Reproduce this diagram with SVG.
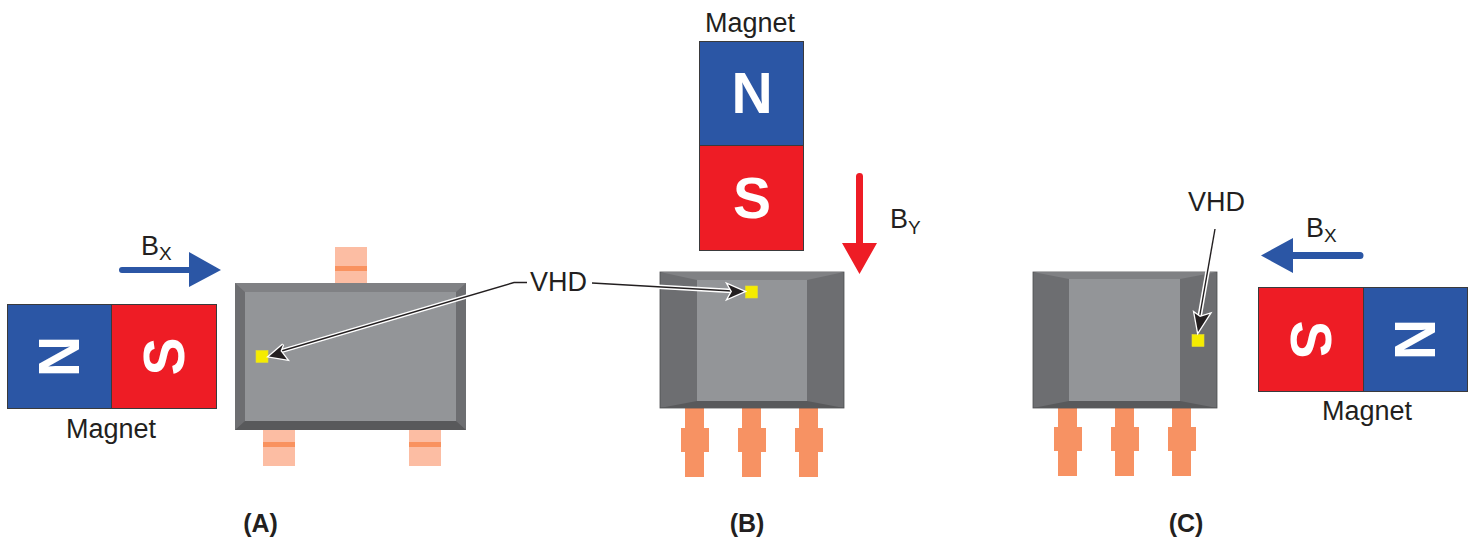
<svg xmlns="http://www.w3.org/2000/svg" width="1473" height="538" viewBox="0 0 1473 538">
<style>
text{font-family:"Liberation Sans",Arial,sans-serif;fill:#231f20}
.l{font-size:27px}
.sub{font-size:19px}
.cap{font-size:25px;font-weight:bold;text-anchor:middle}
.pole{font-weight:bold;font-size:57px;fill:#fff;text-anchor:middle}
.n{fill:#2b56a5;stroke:#3a3a3c;stroke-width:1}
.s{fill:#ee1c25;stroke:#3a3a3c;stroke-width:1}
.lead{fill:#fcbda3}
.band{fill:#f9925f}
.pin{fill:#f79263}
.vhd{fill:#f5ec00;stroke:#e3dc30;stroke-width:.6}
.halo{fill:none;stroke:#fff;stroke-width:4.4}
.wire{fill:none;stroke:#231f20;stroke-width:1.4}
.head{fill:#231f20;stroke:#fff;stroke-width:2.6;stroke-linejoin:miter;paint-order:stroke}
</style>
<defs>
<g id="pins">
<path class="pin" d="M14 0H33V20H38V44H33V69H14V44H10V20H14Z"/>
</g>
</defs>
<g id="magnet-a">
<rect class="n" x="7.500" y="304.500" width="104" height="104"/>
<rect class="s" x="111.500" y="304.500" width="105" height="104"/>
<text class="pole" transform="translate(79,356.500) rotate(-90)">N</text>
<text class="pole" transform="translate(184,356.500) rotate(-90)">S</text>
<text class="l" x="66" y="438">Magnet</text>
</g>
<g id="field-a">
<path fill="#2b56a5" d="M122 267H189V252L221 270L189 287V273H122A3 3 0 0 1 122 267Z"/>
<text class="l" x="141" y="255">B<tspan class="sub" dy="5">X</tspan></text>
</g>
<g id="package-a">
<rect class="lead" x="335" y="247" width="32" height="36"/>
<rect class="band" x="335" y="266" width="32" height="5"/>
<rect class="lead" x="263" y="430" width="32" height="36"/>
<rect class="band" x="263" y="442" width="32" height="5"/>
<rect class="lead" x="409" y="430" width="32" height="36"/>
<rect class="band" x="409" y="442" width="32" height="5"/>
<rect x="235" y="283" width="231" height="147" fill="#6d6e71"/>
<path fill="#808184" d="M235 283H466L456 292H245Z"/>
<path fill="#58595b" d="M235 430H466L456 421H245Z"/>
<rect x="245" y="292" width="211" height="129" fill="#939598"/>
<rect class="vhd" x="256" y="350.500" width="12" height="12"/>
</g>
<g id="magnet-b">
<text class="l" x="705" y="32">Magnet</text>
<rect class="n" x="699.500" y="41.500" width="104" height="104"/>
<rect class="s" x="699.500" y="145.500" width="104" height="105"/>
<text class="pole" x="752" y="113">N</text>
<text class="pole" x="752" y="217.500">S</text>
</g>
<g id="field-b">
<path fill="#ee1c25" d="M856 176.500A3.500 3.500 0 0 1 863 176.500V243H877L859.500 274L842 243H856Z"/>
<text class="l" x="890" y="228">B<tspan class="sub" dy="6">Y</tspan></text>
</g>
<g id="package-b">
<use href="#pins" x="671" y="408"/>
<use href="#pins" x="728" y="408"/>
<use href="#pins" x="785" y="408"/>
<rect x="660" y="272" width="184" height="136" fill="#6d6e71" stroke="#4d4e50" stroke-width=".8"/>
<path fill="#808184" d="M660 272H844L807 280H697Z"/>
<path fill="#58595b" d="M660 408H844L807 401H697Z"/>
<rect x="697" y="280" width="110" height="121" fill="#939598"/>
<rect class="vhd" x="745.500" y="286" width="12" height="12"/>
</g>
<g id="package-c">
<use href="#pins" x="1044" y="407"/>
<use href="#pins" x="1101" y="407"/>
<use href="#pins" x="1158" y="407"/>
<rect x="1033" y="272" width="184" height="136" fill="#6d6e71" stroke="#4d4e50" stroke-width=".8"/>
<path fill="#808184" d="M1033 272H1217L1180 279H1069Z"/>
<path fill="#58595b" d="M1033 408H1217L1180 401H1069Z"/>
<rect x="1069" y="279" width="111" height="122" fill="#939598"/>
<rect class="vhd" x="1192" y="334.500" width="12" height="12"/>
</g>
<g id="magnet-c">
<rect class="s" x="1258.500" y="287.500" width="105" height="104"/>
<rect class="n" x="1363.500" y="287.500" width="104" height="104"/>
<text class="pole" transform="translate(1291,339.500) rotate(90)">S</text>
<text class="pole" transform="translate(1395,339.500) rotate(90)">N</text>
<text class="l" x="1322" y="420">Magnet</text>
</g>
<g id="field-c">
<path fill="#2b56a5" d="M1360 252H1293V238L1261 255.500L1293 273V259H1360A3.500 3.500 0 0 0 1360 252Z"/>
<text class="l" x="1306" y="237">B<tspan class="sub" dy="5">X</tspan></text>
</g>
<g id="connectors">
<path class="halo" d="M514 282.500L278 352"/>
<path class="wire" d="M527 282.500H514L278 352"/>
<path class="head" d="M269 356.500L283 344.500L280.500 351L287 359.500Z"/>
<path class="halo" d="M592 283L732 291"/>
<path class="wire" d="M592 283L732 291"/>
<path class="head" d="M744 291.500L728 284.500L732 291.500L728 298.500Z"/>
<path class="halo" d="M1215 229L1199 320"/>
<path class="wire" d="M1215 229L1199 320"/>
<path class="head" d="M1198 332L1194.500 313L1200 317L1209.500 314Z"/>
</g>
<g id="labels">
<text class="l" x="530" y="291">VHD</text>
<text class="l" x="1188" y="211">VHD</text>
<text class="cap" x="260.500" y="532">(A)</text>
<text class="cap" x="747" y="532">(B)</text>
<text class="cap" x="1186" y="532">(C)</text>
</g>
</svg>
